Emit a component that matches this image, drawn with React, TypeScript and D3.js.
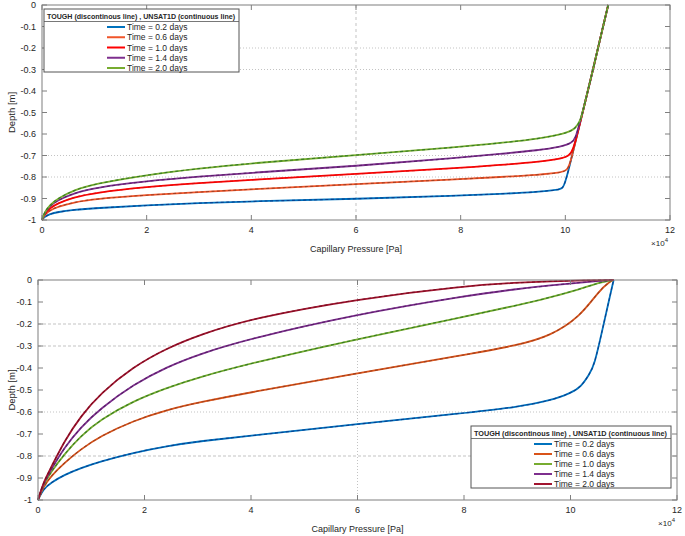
import * as d3 from 'd3';

type Pt = [number, number];

// pressure in 1e4 Pa, depth in m
const X_TICKS = [0, 2, 4, 6, 8, 10, 12];
const Y_TICKS = [0, -0.1, -0.2, -0.3, -0.4, -0.5, -0.6, -0.7, -0.8, -0.9, -1];
const LEGEND_TITLE = 'TOUGH (discontinous line) , UNSAT1D (continuous line)';
const TIME_LABELS = ['Time = 0.2 days', 'Time = 0.6 days', 'Time = 1.0 days', 'Time = 1.4 days', 'Time = 2.0 days'];

// top panel
const TOP_COLORS = ['#0072bd', '#f0552a', '#ff0000', '#7e2f8e', '#77ac30'];
const TOP_DASH = ['#0b2f80', '#8a3a20', '#d01010', '#4a1a5a', '#1f6a1f'];
const STEEP: Pt[] = [[10.33, -0.5], [10.53, -0.3], [10.72, -0.1], [10.82, 0]];
const TOP_02: Pt[] = [[0, -1], [0.05, -0.985], [0.15, -0.972], [0.3, -0.963], [0.6, -0.953], [1, -0.945], [2, -0.932], [3, -0.921], [4, -0.913], [6, -0.902], [8, -0.886], [8.75, -0.879], [9.5, -0.869], [9.85, -0.86], [9.96, -0.852], [10.0, -0.82], [10.05, -0.78], [10.15, -0.68], ...STEEP];
const TOP_06: Pt[] = [[0, -1], [0.05, -0.975], [0.15, -0.955], [0.3, -0.938], [0.6, -0.918], [1, -0.902], [2, -0.884], [3, -0.87], [4, -0.857], [6, -0.833], [8, -0.81], [8.75, -0.8], [9.5, -0.79], [9.9, -0.78], [10.04, -0.77], [10.1, -0.73], [10.2, -0.63], ...STEEP];
const TOP_10: Pt[] = [[0, -1], [0.05, -0.97], [0.15, -0.945], [0.3, -0.922], [0.6, -0.895], [1, -0.873], [2, -0.846], [3, -0.828], [4, -0.813], [6, -0.786], [8, -0.758], [8.75, -0.744], [9.5, -0.73], [9.9, -0.716], [10.08, -0.702], [10.15, -0.67], [10.23, -0.6], ...STEEP];
const TOP_14: Pt[] = [[0, -1], [0.05, -0.965], [0.15, -0.935], [0.3, -0.908], [0.6, -0.876], [1, -0.85], [2, -0.819], [3, -0.798], [4, -0.78], [6, -0.749], [8, -0.71], [8.75, -0.693], [9.5, -0.675], [9.9, -0.66], [10.13, -0.642], [10.2, -0.615], [10.26, -0.56], ...STEEP];
const TOP_20: Pt[] = [[0, -1], [0.05, -0.962], [0.15, -0.93], [0.3, -0.9], [0.6, -0.862], [1, -0.832], [2, -0.79], [3, -0.76], [4, -0.736], [6, -0.698], [8, -0.66], [8.75, -0.642], [9.5, -0.622], [10, -0.598], [10.2, -0.575], [10.29, -0.535], ...STEEP];

// bottom panel
const BOT_COLORS = ['#0072bd', '#d95319', '#77ac30', '#7e2f8e', '#a2142f'];
const BOT_DASH = ['#0b2f80', '#8a3a20', '#1f6a1f', '#4a1a5a', '#6a0a1a'];
const BOT_02: Pt[] = [[0, -1], [0.1, -0.95], [0.25, -0.92], [0.5, -0.885], [0.8, -0.855], [1.17, -0.825], [1.79, -0.785], [2.42, -0.755], [3.05, -0.732], [4, -0.708], [6, -0.655], [8, -0.605], [9, -0.578], [9.62, -0.548], [10, -0.515], [10.2, -0.485], [10.35, -0.43], [10.45, -0.386], [10.6, -0.225], [10.72, -0.095], [10.81, 0]];
const BOT_06: Pt[] = [[0, -1], [0.1, -0.94], [0.25, -0.89], [0.5, -0.83], [0.8, -0.77], [1.17, -0.71], [1.79, -0.64], [2.42, -0.59], [3.05, -0.555], [4, -0.51], [6, -0.424], [8, -0.341], [9, -0.297], [9.62, -0.255], [10.19, -0.165], [10.53, -0.05], [10.75, -0.005], [10.81, 0]];
const BOT_10: Pt[] = [[0, -1], [0.1, -0.93], [0.25, -0.87], [0.5, -0.79], [0.8, -0.71], [1.17, -0.635], [1.79, -0.55], [2.42, -0.49], [3.05, -0.44], [4, -0.378], [6, -0.268], [8, -0.167], [9, -0.115], [9.56, -0.083], [10.2, -0.04], [10.56, -0.01], [10.81, 0]];
const BOT_14: Pt[] = [[0, -1], [0.1, -0.925], [0.25, -0.86], [0.5, -0.76], [0.8, -0.67], [1.17, -0.585], [1.79, -0.475], [2.42, -0.395], [3.05, -0.335], [4, -0.265], [6, -0.155], [8, -0.073], [9, -0.04], [9.87, -0.019], [10.5, -0.004], [10.81, 0]];
const BOT_20: Pt[] = [[0, -1], [0.1, -0.92], [0.25, -0.85], [0.5, -0.73], [0.8, -0.62], [1.17, -0.516], [1.79, -0.394], [2.42, -0.31], [3.05, -0.248], [4, -0.175], [6, -0.086], [8, -0.027], [9, -0.012], [9.62, -0.006], [10.3, -0.001], [10.81, 0]];

const FONT = 'Liberation Sans, Arial, sans-serif';
const AXIS = '#7f7f7f';
const TEXT = '#262626';

interface Grid { y: number; dash: string }

interface PanelProps {
  box: { left: number; right: number; top: number; bottom: number };
  series: Pt[][];
  colors: string[];
  dashColors: string[];
  grids: Grid[];
  vGridDash: string;
  legend: { x: number; y: number; w: number; h: number };
}

function Panel({ box, series, colors, dashColors, grids, vGridDash, legend }: PanelProps) {
  const x = d3.scaleLinear().domain([0, 12]).range([box.left, box.right]);
  const y = d3.scaleLinear().domain([-1, 0]).range([box.bottom, box.top]);
  const line = d3.line<Pt>().x((d) => x(d[0])).y((d) => y(d[1])).curve(d3.curveBasis);
  const tl = 5;
  const itemStep = (legend.h - 22) / 4;

  return (
    <g fontFamily={FONT}>
      {/* grid */}
      {grids.map((g) => (
        <line key={g.y} x1={box.left} x2={box.right} y1={y(g.y)} y2={y(g.y)} stroke="#b4b4b4" strokeWidth={0.8} strokeDasharray={g.dash} />
      ))}
      <line x1={x(6)} x2={x(6)} y1={box.top} y2={box.bottom} stroke="#b4b4b4" strokeWidth={0.8} strokeDasharray={vGridDash} />

      {/* curves: solid = UNSAT1D, dashed = TOUGH */}
      {series.map((s, i) => (
        <g key={i}>
          <path d={line(s) ?? ''} fill="none" stroke={colors[i]} strokeWidth={1.8} />
          <path d={line(s) ?? ''} fill="none" stroke={dashColors[i]} strokeWidth={1.1} strokeDasharray="3,2.5" opacity={0.75} />
        </g>
      ))}

      {/* box + ticks */}
      <rect x={box.left} y={box.top} width={box.right - box.left} height={box.bottom - box.top} fill="none" stroke={AXIS} strokeWidth={1} />
      {X_TICKS.map((t) => (
        <g key={'x' + t}>
          <line x1={x(t)} x2={x(t)} y1={box.bottom} y2={box.bottom - tl} stroke={AXIS} />
          <line x1={x(t)} x2={x(t)} y1={box.top} y2={box.top + tl} stroke={AXIS} />
          <text x={x(t)} y={box.bottom + 13} textAnchor="middle" fontSize={9} fill={TEXT}>{t}</text>
        </g>
      ))}
      {Y_TICKS.map((t) => (
        <g key={'y' + t}>
          <line x1={box.left} x2={box.left + tl} y1={y(t)} y2={y(t)} stroke={AXIS} />
          <line x1={box.right} x2={box.right - tl} y1={y(t)} y2={y(t)} stroke={AXIS} />
          <text x={box.left - 6} y={y(t) + 3} textAnchor="end" fontSize={9} fill={TEXT}>{t === 0 ? '0' : t === -1 ? '-1' : t.toFixed(1)}</text>
        </g>
      ))}
      <text x={(box.left + box.right) / 2} y={box.bottom + 32} textAnchor="middle" fontSize={9} fill={TEXT}>Capillary Pressure [Pa]</text>
      <text transform={`translate(15,${(box.top + box.bottom) / 2}) rotate(-90)`} textAnchor="middle" fontSize={9.5} fill={TEXT}>Depth [m]</text>
      <text x={box.right - 2} y={box.bottom + 26} textAnchor="end" fontSize={8} fill={TEXT}>
        ×10<tspan dy={-4} fontSize={6}>4</tspan>
      </text>

      {/* legend */}
      <g transform={`translate(${legend.x},${legend.y})`}>
        <rect width={legend.w} height={legend.h} fill="#fff" stroke="#555" strokeWidth={1} />
        <text x={3} y={9.5} fontSize={7.5} fontWeight="bold" fill={TEXT} textLength={legend.w - 7} lengthAdjust="spacingAndGlyphs">{LEGEND_TITLE}</text>
        <line x1={0} x2={legend.w} y1={12.5} y2={12.5} stroke="#555" strokeWidth={0.8} />
        {TIME_LABELS.map((lab, i) => {
          const cy = 18 + itemStep * i;
          return (
            <g key={lab}>
              <line x1={63} x2={81} y1={cy} y2={cy} stroke={colors[i]} strokeWidth={2} />
              <text x={83} y={cy + 3} fontSize={8.5} fill={TEXT}>{lab}</text>
            </g>
          );
        })}
      </g>
    </g>
  );
}

export default function App() {
  return (
    <div style={{ position: 'absolute', left: 0, top: 0 }}>
      <svg width={685} height={536} style={{ display: 'block', background: '#fff' }}>
        <Panel
          box={{ left: 42, right: 670, top: 5, bottom: 220 }}
          series={[TOP_02, TOP_06, TOP_10, TOP_14, TOP_20]}
          colors={TOP_COLORS}
          dashColors={TOP_DASH}
          grids={[{ y: -0.2, dash: '1,2' }, { y: -0.3, dash: '1,2' }, { y: -0.7, dash: '1,2' }, { y: -0.8, dash: '1,2' }]}
          vGridDash="3,3"
          legend={{ x: 44, y: 9, w: 195, h: 63 }}
        />
        <Panel
          box={{ left: 38, right: 677, top: 280, bottom: 500 }}
          series={[BOT_02, BOT_06, BOT_10, BOT_14, BOT_20]}
          colors={BOT_COLORS}
          dashColors={BOT_DASH}
          grids={[{ y: -0.2, dash: '3,2' }, { y: -0.3, dash: '3,2' }, { y: -0.6, dash: '1,2' }, { y: -0.8, dash: '3,2' }]}
          vGridDash="1,2"
          legend={{ x: 471, y: 426, w: 200, h: 62 }}
        />
      </svg>
    </div>
  );
}
